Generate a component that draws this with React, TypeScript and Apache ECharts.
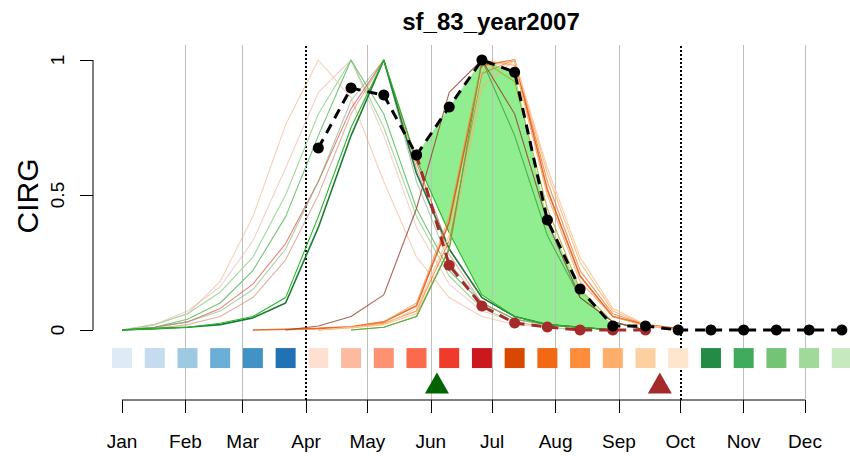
import React, { useEffect, useRef } from 'react';
import * as echarts from 'echarts';

const TITLE = 'sf_83_year2007';
const Y_NAME = 'CIRG';
const MONTHS = ['Jan', 'Feb', 'Mar', 'Apr', 'May', 'Jun', 'Jul', 'Aug', 'Sep', 'Oct', 'Nov', 'Dec'];
const MONTH_START_DOY = [1, 32, 60, 91, 121, 152, 182, 213, 244, 274, 305, 335];
const GRID_DOY = [32, 60, 121, 152, 182, 213, 244, 305, 335];
const DOTTED_DOY = [91, 274];
const Y_TICKS = [0, 0.5, 1];

// 16-day composite periods
const PERIOD_DOY = [1, 17, 33, 49, 65, 81, 97, 113, 129, 145, 161, 177, 193, 209, 225, 241, 257, 273, 289, 305, 321, 337, 353];

// observed CIRG (black)
const OBS_DOY = [97, 113, 129, 145, 161, 177, 193, 209, 225, 241, 257, 273, 289, 305, 321, 337, 353];
const OBS_CIRG = [0.674, 0.896, 0.87, 0.648, 0.826, 1.0, 0.955, 0.407, 0.152, 0.015, 0.015, 0, 0, 0, 0, 0, 0];

// first season decay (brown)
const S1_DOY = [145, 161, 177, 193, 209, 225, 241, 257];
const S1_CIRG = [0.648, 0.24, 0.089, 0.026, 0.011, 0.0, 0.0, 0.0];

// reference curves of other years (values at PERIOD_DOY)
const N = null;
const CURVE_A1 = [0, 0.02, 0.06, 0.18, 0.42, 0.76, 1.0, 0.86, 0.55, 0.27, 0.12, 0.05, 0.02, 0.01, 0, N, N, N, N, N, N, N, N];
const CURVE_A2 = [0, 0.02, 0.07, 0.16, 0.33, 0.6, 0.88, 1.0, 0.72, 0.38, 0.17, 0.07, 0.03, 0.01, 0, N, N, N, N, N, N, N, N];
const CURVE_A3 = [0, 0.02, 0.06, 0.14, 0.27, 0.5, 0.8, 1.0, 0.75, 0.42, 0.2, 0.08, 0.03, 0.01, 0, N, N, N, N, N, N, N, N];
const CURVE_A4 = [0, 0.01, 0.04, 0.1, 0.22, 0.42, 0.72, 1.0, 0.8, 0.45, 0.22, 0.1, 0.04, 0.02, 0.01, 0, N, N, N, N, N, N, N];
const CURVE_A5 = [0, 0.01, 0.03, 0.08, 0.17, 0.32, 0.55, 0.82, 1.0, 0.62, 0.3, 0.12, 0.05, 0.02, 0.01, 0, N, N, N, N, N, N, N];
const CURVE_A6 = [0, 0.005, 0.02, 0.05, 0.12, 0.26, 0.5, 0.8, 1.0, 0.6, 0.28, 0.1, 0.04, 0.02, 0.01, 0, N, N, N, N, N, N, N];
const CURVE_A7 = [0, 0.01, 0.03, 0.07, 0.15, 0.3, 0.55, 0.85, 1.0, 0.55, 0.25, 0.1, 0.04, 0.02, 0.01, 0, N, N, N, N, N, N, N];
const CURVE_A8 = [0, 0.005, 0.01, 0.02, 0.045, 0.1, 0.38, 0.72, 1.0, 0.58, 0.3, 0.12, 0.05, 0.02, 0.01, 0, N, N, N, N, N, N, N];
const CURVE_A9 = [0, 0.005, 0.01, 0.025, 0.05, 0.12, 0.42, 0.75, 1.0, 0.63, 0.36, 0.13, 0.05, 0.02, 0.01, 0, N, N, N, N, N, N, N];
const CURVE_B1 = [N, N, N, N, 0, 0.003, 0.006, 0.012, 0.03, 0.09, 0.4, 0.98, 1.0, 0.52, 0.2, 0.05, 0.02, 0.005, N, N, N, N, N];
const CURVE_B2 = [N, N, N, N, N, 0, 0.005, 0.01, 0.025, 0.07, 0.33, 0.95, 1.0, 0.55, 0.22, 0.06, 0.02, 0, N, N, N, N, N];
const CURVE_B3 = [N, N, N, N, N, N, 0, 0.01, 0.03, 0.1, 0.42, 1.0, 0.98, 0.5, 0.18, 0.05, 0.015, 0, N, N, N, N, N];
const CURVE_B4 = [N, N, N, N, N, N, 0, 0.008, 0.02, 0.06, 0.3, 0.9, 1.0, 0.58, 0.25, 0.07, 0.02, 0, N, N, N, N, N];
const CURVE_B5 = [N, N, N, N, N, N, N, 0, 0.01, 0.05, 0.3, 1.0, 0.92, 0.45, 0.15, 0.03, 0, N, N, N, N, N, N];
const CURVE_B6 = [N, N, N, N, N, N, 0, 0.01, 0.02, 0.08, 0.35, 0.97, 1.0, 0.6, 0.27, 0.08, 0.02, 0, N, N, N, N, N];
const CURVE_B7 = [N, N, N, N, N, N, N, 0, 0.01, 0.05, 0.3, 1.0, 0.72, 0.35, 0.12, 0.03, 0, N, N, N, N, N, N];
const CURVE_B8 = [N, N, N, N, N, 0, 0.015, 0.05, 0.13, 0.45, 0.88, 1.0, 0.8, 0.4, 0.12, 0.03, 0, N, N, N, N, N, N];

const CURVES = [CURVE_A1, CURVE_A2, CURVE_A3, CURVE_A4, CURVE_A5, CURVE_A6, CURVE_A7, CURVE_A8, CURVE_A9,
  CURVE_B1, CURVE_B2, CURVE_B3, CURVE_B4, CURVE_B5, CURVE_B6, CURVE_B7, CURVE_B8];
const CURVE_COLORS = [
  'rgba(240,160,120,0.5)', 'rgba(230,170,160,0.55)', '#a1d99b', '#74c476', 'rgba(222,90,70,0.75)',
  'rgba(205,130,100,0.6)', 'rgba(120,170,130,0.6)', '#1f7a3a', '#22bb22',
  'rgba(217,72,1,0.8)', 'rgba(241,105,19,0.7)', 'rgba(253,141,60,0.7)', 'rgba(253,174,107,0.8)', 'rgba(166,166,26,0.8)', 'rgba(250,200,150,0.9)', '#4daf4a', 'rgba(150,60,40,0.8)'
];

// season fill: between observed and first-season curve
const FILL_FROM = 9;
const FILL_TO = 15;

const PERIOD_COLORS = [
  '#deebf7', '#c6dbef', '#9ecae1', '#6baed6', '#4292c6', '#2171b5',
  '#fee0d2', '#fcbba1', '#fc9272', '#fb6a4a', '#ef3b2c', '#cb181d',
  '#d94801', '#f16913', '#fd8d3c', '#fdae6b', '#fdd0a2', '#fee6ce',
  '#238b45', '#41ab5d', '#74c476', '#a1d99b', '#c7e9c0'
];

const SEASON_START_DOY = 155;
const SEASON_END_DOY = 264;

const X_MIN = -13.2;
const X_MAX = 357;
const Y_MIN = -0.2593;
const Y_MAX = 1.0556;
const SQUARE_Y = -0.104;
const TRI_Y = -0.196;
const FONT = '"Liberation Sans", Arial, Helvetica, sans-serif';

const toPts = (vals: (number | null)[]) =>
  PERIOD_DOY.map((d, i) => (vals[i] == null ? null : [d, vals[i]])).filter(Boolean);

export default function App() {
  const ref = useRef<HTMLDivElement>(null);
  useEffect(() => {
    const chart = echarts.init(ref.current!, null, { renderer: 'svg' });
    const fillDoy = PERIOD_DOY.slice(FILL_FROM, FILL_TO + 1);
    const fillUpper = fillDoy.map((d) => OBS_CIRG[OBS_DOY.indexOf(d)]);
    const fillLower = CURVE_A9.slice(FILL_FROM, FILL_TO + 1) as number[];

    const series: any[] = [];
    series.push({
      type: 'custom',
      z: 1,
      silent: true,
      data: [[fillDoy[0], fillUpper[0]]],
      renderItem: (params: any, api: any) => {
        if (params.dataIndex !== 0) return null;
        const pts: number[][] = [];
        for (let i = 0; i < fillDoy.length; i++) pts.push(api.coord([fillDoy[i], fillUpper[i]]));
        for (let i = fillDoy.length - 1; i >= 0; i--) pts.push(api.coord([fillDoy[i], fillLower[i]]));
        return { type: 'polygon', shape: { points: pts }, style: { fill: '#90ee90' } };
      },
    });
    // axis lines + grid lines
    series.push({
      type: 'line',
      z: 2,
      silent: true,
      clip: false,
      symbol: 'none',
      data: [[MONTH_START_DOY[0], Y_MIN], [MONTH_START_DOY[MONTH_START_DOY.length - 1], Y_MIN]],
      lineStyle: { color: '#000', width: 1 },
      markLine: {
        silent: true,
        z: 2,
        symbol: ['none', 'none'],
        label: { show: false },
        lineStyle: { color: '#bebebe', width: 1, type: 'solid' },
        data: [
          ...GRID_DOY.map((d) => ({ xAxis: d })),
          ...DOTTED_DOY.map((d) => ({ xAxis: d, lineStyle: { color: '#000', width: 2, type: [2, 2] } })),
        ],
      },
    });
    series.push({
      type: 'line',
      z: 2,
      silent: true,
      clip: false,
      symbol: 'none',
      data: [[X_MIN, Y_TICKS[0]], [X_MIN, Y_TICKS[Y_TICKS.length - 1]]],
      lineStyle: { color: '#000', width: 1 },
    });
    CURVES.forEach((c, i) => {
      series.push({
        type: 'line',
        z: 3,
        silent: true,
        symbol: 'none',
        data: toPts(c),
        lineStyle: { color: CURVE_COLORS[i], width: i === 7 || i === 9 ? 1.6 : 1.1 },
      });
    });
    series.push({
      type: 'line',
      z: 5,
      silent: true,
      symbol: 'circle',
      symbolSize: 11,
      data: S1_DOY.map((d, i) => [d, S1_CIRG[i]]),
      itemStyle: { color: '#a52a2a' },
      lineStyle: { color: '#a52a2a', width: 3, type: [10, 7] },
    });
    series.push({
      type: 'line',
      z: 6,
      silent: true,
      symbol: 'circle',
      symbolSize: 11,
      data: OBS_DOY.map((d, i) => [d, OBS_CIRG[i]]),
      itemStyle: { color: '#000' },
      lineStyle: { color: '#000', width: 3, type: [10, 7] },
    });
    series.push({
      type: 'scatter',
      z: 6,
      silent: true,
      clip: false,
      symbol: 'rect',
      symbolSize: 20,
      data: PERIOD_DOY.map((d, i) => ({ value: [d, SQUARE_Y], itemStyle: { color: PERIOD_COLORS[i], opacity: 1 } })),
    });
    series.push({
      type: 'scatter',
      z: 6,
      silent: true,
      symbol: 'triangle',
      symbolSize: [24, 21],
      data: [
        { value: [SEASON_START_DOY, TRI_Y], itemStyle: { color: '#006400', opacity: 1 } },
        { value: [SEASON_END_DOY, TRI_Y], itemStyle: { color: '#a52a2a', opacity: 1 } },
      ],
    });

    chart.setOption({
      animation: false,
      backgroundColor: '#fff',
      title: {
        text: TITLE,
        left: 486,
        top: 4,
        textAlign: 'center',
        textStyle: { fontSize: 24, fontWeight: 'bold', color: '#000', fontFamily: FONT },
      },
      graphic: [
        {
          type: 'text',
          x: 27,
          y: 196,
          rotation: Math.PI / 2,
          silent: true,
          style: {
            text: Y_NAME,
            align: 'center',
            verticalAlign: 'middle',
            fontSize: 30,
            fill: '#000',
            fontFamily: FONT,
          },
        },
      ],
      grid: { left: 93, right: 0, top: 45, bottom: 59 },
      xAxis: {
        type: 'value',
        min: X_MIN,
        max: X_MAX,
        axisLine: { show: false, onZero: false },
        splitLine: { show: false },
        axisTick: { show: true, customValues: MONTH_START_DOY, length: 13, lineStyle: { color: '#000', width: 1 } },
        axisLabel: {
          customValues: MONTH_START_DOY,
          formatter: (v: number) => MONTHS[MONTH_START_DOY.indexOf(Math.round(v))] ?? '',
          fontSize: 19,
          color: '#000',
          margin: 32,
          fontFamily: FONT,
        },
      },
      yAxis: {
        type: 'value',
        min: Y_MIN,
        max: Y_MAX,
        axisLine: { show: false, onZero: false },
        splitLine: { show: false },
        axisTick: { show: true, customValues: Y_TICKS, length: 13, lineStyle: { color: '#000', width: 1 } },
        axisLabel: {
          customValues: Y_TICKS,
          rotate: 90,
          margin: 26,
          fontSize: 19,
          color: '#000',
          fontFamily: FONT,
          formatter: (v: number) => String(v),
        },
      },
      series,
    });
    return () => chart.dispose();
  }, []);
  return (
    <div
      ref={ref}
      style={{ position: 'fixed', left: 0, top: 0, width: 850, height: 459, background: '#fff' }}
    />
  );
}
